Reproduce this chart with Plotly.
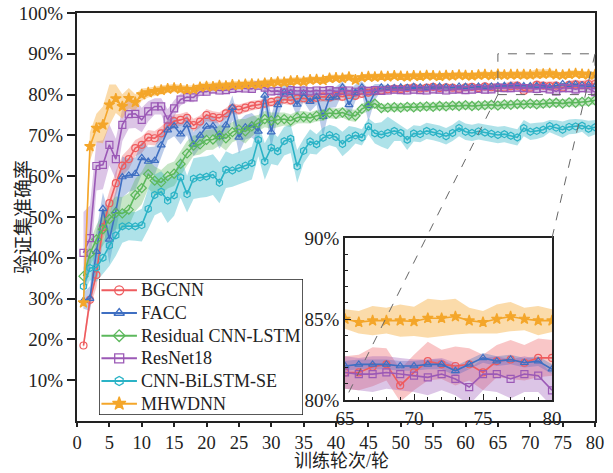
import plotly.graph_objects as go

epochs = list(range(1, 81))

names = ["BGCNN", "FACC", "Residual CNN-LSTM", "ResNet18", "CNN-BiLSTM-SE", "MHWDNN"]

bgcnn = [18.5, 29.7, 35.8, 47.5, 53.4, 58.3, 62.6, 64.2, 66.9, 67.7,
         69.5, 69.3, 70.5, 72.2, 73.5, 73.8, 74.3, 72.5, 73.4, 75.0,
         74.5, 74.3, 75.4, 76.6, 76.3, 76.8, 77.3, 77.5, 77.8, 78.2,
         78.5, 78.8, 78.6, 79.0, 79.1, 78.8, 79.2, 79.5, 79.3, 79.7,
         79.5, 79.9, 79.7, 80.2, 80.5, 80.8, 81.0, 81.3, 81.5, 81.4,
         81.6, 81.8, 81.5, 81.7, 81.9, 81.6, 81.8, 81.7, 81.4, 81.8,
         81.9, 81.6, 82.0, 81.8, 81.7, 81.7, 82.05, 82.2, 80.9, 81.7,
         82.4, 82.2, 82.1, 82.2, 81.7, 82.4, 82.5, 82.3, 82.6, 82.6]
bgcnn_err = [1.0, 2.0, 3.0, 3.5, 3.0, 3.0, 2.5, 2.5, 2.0, 2.0,
             1.8, 1.8, 1.7, 1.6, 1.6, 1.5, 1.5, 1.6, 1.5, 1.5,
             1.4, 1.4, 1.3, 1.3, 1.3, 1.2, 1.2, 1.2, 1.2, 1.2,
             1.2, 1.1, 1.2, 1.1, 1.2, 1.1, 1.1, 1.2, 1.1, 1.1,
             1.1, 1.0, 1.1, 1.0, 1.0, 1.0, 0.9, 0.9, 0.9, 0.9,
             0.9, 0.9, 0.9, 0.9, 0.8, 0.9, 0.9, 0.8, 0.9, 0.9,
             0.9, 0.9, 0.9, 0.9, 1.0, 1.1, 1.2, 1.0, 1.0, 1.1,
             1.2, 0.9, 1.2, 1.0, 1.1, 1.0, 1.2, 1.1, 1.2, 1.1]

facc = [29.5, 30.0, 41.5, 52.0, 44.5, 51.5, 59.8, 60.2, 60.6, 64.5,
        63.6, 63.8, 67.6, 71.3, 72.3, 70.3, 72.6, 67.8, 70.0, 72.2,
        72.3, 69.7, 72.5, 76.8, 69.5, 72.0, 72.5, 71.0, 79.8, 70.8,
        77.5, 80.6, 80.4, 77.6, 80.3, 78.3, 79.5, 74.6, 79.2, 79.4,
        81.8, 77.5, 80.5, 81.8, 77.3, 80.6, 81.8, 81.7, 81.6, 81.8,
        81.7, 81.9, 81.8, 81.7, 81.9, 82.0, 81.8, 81.7, 82.0, 81.9,
        81.8, 82.0, 81.9, 82.0, 82.1, 82.2, 82.2, 82.2, 82.1, 82.1,
        82.2, 82.2, 81.8, 82.2, 82.6, 82.4, 82.5, 82.3, 82.4, 81.9]
facc_err = [2.0, 3.0, 5.0, 4.0, 6.0, 5.0, 5.0, 4.0, 4.0, 4.0,
            3.5, 3.5, 3.0, 2.5, 2.5, 2.5, 2.5, 3.0, 3.0, 2.5,
            2.5, 3.0, 3.0, 3.0, 4.0, 3.0, 3.0, 3.0, 3.0, 4.0,
            3.0, 2.0, 2.0, 3.0, 2.0, 2.5, 2.0, 5.0, 2.5, 2.5,
            1.5, 3.5, 2.0, 1.5, 4.0, 2.0, 0.8, 0.5, 0.4, 0.4,
            0.4, 0.4, 0.4, 0.4, 0.4, 0.4, 0.4, 0.4, 0.4, 0.4,
            0.4, 0.4, 0.4, 0.4, 0.3, 0.3, 0.3, 0.3, 0.3, 0.3,
            0.3, 0.3, 0.3, 0.3, 0.3, 0.3, 0.3, 0.3, 0.3, 0.3]

rescnn = [35.5, 41.0, 44.5, 47.0, 49.5, 51.0, 50.9, 51.8, 55.4, 57.1,
          60.5, 58.9, 58.5, 60.0, 60.6, 63.0, 65.6, 67.5, 67.8, 68.9,
          69.0, 70.0, 69.3, 70.8, 71.5, 71.0, 72.2, 73.0, 74.0, 73.6,
          73.8, 74.0, 73.6, 74.4, 74.5, 74.3, 74.8, 75.0, 75.5, 75.3,
          75.6, 75.0, 74.8, 76.5, 77.2, 77.8, 76.7, 76.8, 76.9, 76.8,
          77.0, 76.9, 77.0, 77.1, 77.0, 77.2, 77.1, 77.3, 77.2, 77.4,
          77.2, 77.3, 77.4, 77.5, 77.3, 77.6, 77.5, 77.7, 77.6, 77.8,
          77.6, 77.8, 77.9, 78.0, 77.8, 78.1, 78.0, 78.2, 78.3, 78.6]
rescnn_err = [2.0, 3.0, 3.5, 4.0, 4.0, 4.0, 4.0, 4.0, 4.0, 4.0,
              3.5, 3.5, 3.0, 3.0, 3.0, 3.0, 3.0, 2.5, 2.5, 2.5,
              2.5, 2.5, 3.0, 2.5, 2.5, 3.0, 2.5, 2.0, 2.0, 2.0,
              1.8, 1.6, 1.6, 1.5, 1.5, 1.4, 1.4, 1.4, 1.3, 1.3,
              1.3, 1.4, 1.5, 1.3, 1.2, 1.1, 1.0, 1.0, 1.0, 1.0,
              1.0, 1.0, 1.0, 1.0, 1.0, 1.0, 1.0, 1.0, 1.0, 1.0,
              1.0, 1.0, 1.0, 1.0, 1.0, 1.0, 1.0, 1.0, 1.0, 1.0,
              1.0, 1.0, 1.0, 1.0, 1.0, 1.0, 1.0, 1.0, 1.0, 1.0]

resnet = [41.2, 44.8, 62.5, 62.8, 67.7, 64.2, 72.6, 75.2, 75.3, 73.8,
          75.9, 77.1, 77.1, 73.9, 76.6, 78.8, 79.4, 79.3, 80.7, 80.7,
          81.3, 81.0, 81.1, 81.4, 81.6, 81.5, 81.4, 82.2, 81.7, 80.8,
          80.9, 80.5, 81.1, 80.9, 81.0, 80.8, 81.0, 80.9, 81.1, 80.8,
          80.9, 81.0, 80.7, 81.0, 80.9, 81.1, 80.9, 81.0, 81.2, 81.1,
          81.0, 81.2, 81.1, 81.0, 81.3, 81.2, 81.0, 81.2, 81.3, 81.1,
          81.2, 81.4, 81.2, 81.3, 81.7, 81.6, 81.6, 81.7, 81.6, 81.5,
          81.4, 81.6, 81.3, 80.8, 81.6, 81.6, 81.3, 81.6, 81.5, 80.6]
resnet_err = [10.0, 8.0, 6.0, 6.0, 5.0, 5.0, 4.0, 3.5, 3.5, 3.0,
              2.5, 2.0, 2.0, 2.5, 2.0, 1.5, 1.2, 1.2, 1.0, 1.0,
              1.0, 1.0, 1.0, 1.0, 1.0, 1.0, 1.0, 1.0, 1.0, 1.0,
              1.0, 1.0, 1.0, 1.0, 1.0, 1.0, 1.0, 1.0, 1.0, 1.0,
              1.0, 1.0, 1.0, 1.0, 1.0, 1.0, 1.0, 1.0, 1.0, 1.0,
              1.0, 1.0, 1.0, 1.0, 1.0, 1.0, 1.0, 1.0, 1.0, 1.0,
              1.0, 1.0, 1.0, 1.0, 1.0, 1.0, 1.1, 1.0, 1.0, 1.0,
              1.1, 1.0, 1.0, 1.1, 1.0, 1.1, 1.2, 1.1, 1.0, 1.0]

bilstm = [33.0, 37.5, 37.6, 40.0, 43.0, 45.5, 47.7, 47.8, 47.7, 48.0,
          52.0, 55.4, 56.2, 54.0, 55.3, 59.7, 55.6, 59.4, 59.7, 59.9,
          60.4, 58.4, 61.6, 61.4, 62.0, 62.6, 63.2, 68.9, 63.6, 67.0,
          66.1, 68.6, 69.2, 62.4, 66.2, 68.5, 67.8, 69.4, 70.1, 69.6,
          67.9, 69.3, 70.0, 69.5, 72.2, 70.5, 70.2, 70.6, 71.1, 70.6,
          68.9, 70.5, 70.3, 71.1, 70.8, 70.4, 69.8, 70.6, 71.8, 70.9,
          70.6, 71.0, 70.7, 70.4, 70.1, 70.3, 69.9, 69.5, 71.8, 70.9,
          71.1, 71.4, 72.3, 71.9, 71.4, 72.1, 72.2, 72.4, 71.6, 72.0]
bilstm_err = [2.0, 3.0, 3.5, 4.0, 5.0, 5.0, 4.0, 3.5, 3.5, 4.0,
              5.0, 5.0, 5.0, 5.5, 5.0, 5.0, 4.5, 5.0, 5.0, 5.0,
              5.0, 5.0, 4.5, 4.0, 4.0, 4.0, 4.0, 4.0, 4.5, 4.0,
              3.5, 3.5, 3.5, 4.0, 3.0, 3.0, 2.5, 2.5, 2.5, 2.5,
              3.0, 3.0, 2.0, 2.0, 2.0, 2.5, 3.0, 4.0, 2.5, 2.0,
              2.5, 2.0, 2.0, 2.0, 2.0, 2.0, 2.0, 2.0, 2.0, 2.0,
              2.0, 2.0, 2.0, 2.0, 2.0, 2.0, 2.0, 2.0, 2.0, 2.0,
              2.0, 1.8, 1.5, 1.8, 2.0, 1.8, 1.8, 1.5, 2.0, 1.8]

mhwdnn = [29.0, 67.3, 71.8, 72.6, 77.5, 79.0, 77.1, 79.1, 78.1, 80.0,
          80.5, 80.8, 81.1, 81.4, 81.6, 81.4, 81.2, 81.3, 81.8, 82.0,
          81.9, 82.2, 82.1, 82.4, 82.3, 82.5, 82.6, 82.5, 82.8, 82.9,
          83.1, 83.0, 83.3, 83.4, 83.2, 83.6, 83.7, 83.5, 84.0, 84.1,
          84.0, 84.3, 83.6, 84.2, 84.4, 84.3, 84.5, 84.4, 84.6, 84.5,
          84.4, 84.6, 84.5, 84.7, 84.6, 84.5, 84.7, 84.6, 84.8, 84.7,
          84.6, 84.8, 84.9, 84.7, 85.0, 84.8, 84.9, 84.9, 84.9, 84.85,
          85.05, 85.05, 85.15, 84.9, 84.8, 85.0, 85.15, 85.0, 84.9, 84.9]
mhwdnn_err = [2.5, 3.5, 3.5, 4.5, 5.0, 3.5, 3.0, 2.5, 2.0, 1.5,
              1.2, 1.2, 1.1, 1.0, 1.0, 1.0, 1.0, 1.0, 1.0, 1.0,
              1.0, 1.0, 0.9, 0.9, 1.0, 0.9, 0.9, 0.9, 0.9, 0.9,
              0.9, 0.9, 0.9, 0.9, 0.9, 0.9, 0.8, 0.9, 0.9, 0.8,
              0.8, 0.9, 0.9, 0.8, 0.8, 0.8, 0.8, 0.8, 0.8, 0.8,
              0.8, 0.8, 0.8, 0.8, 0.8, 0.8, 0.8, 0.8, 0.8, 0.8,
              0.8, 0.8, 0.8, 0.8, 0.6, 0.7, 0.9, 0.8, 1.0, 0.9,
              1.2, 1.1, 1.1, 0.8, 0.7, 0.9, 0.9, 0.7, 0.9, 0.7]

values = [bgcnn, facc, rescnn, resnet, bilstm, mhwdnn]
errors = [bgcnn_err, facc_err, rescnn_err, resnet_err, bilstm_err, mhwdnn_err]
colors = ["#EE5B5E", "#3F6FC2", "#5CB85C", "#9B59B6", "#2BB3C6", "#F4A62A"]
fills = ["rgba(238,91,94,0.35)", "rgba(63,111,194,0.35)", "rgba(92,184,92,0.35)",
         "rgba(155,89,182,0.35)", "rgba(43,179,198,0.38)", "rgba(244,166,42,0.40)"]
symbols = ["circle-open", "triangle-up-open", "diamond-open", "square-open", "hexagon-open", "star"]

main_yticks = [10, 20, 30, 40, 50, 60, 70, 80, 90, 100]
main_xticks = list(range(0, 81, 5))
inset_xticks = [65, 70, 75, 80]
inset_yticks = [80, 85, 90]
zoom_x = [65, 80]
zoom_y = [80, 90]
x_range = [0, 80]
y_range = [0, 100]
x_title = "训练轮次/轮"
y_title = "验证集准确率"

serif = "Liberation Serif, Times New Roman, serif"
cjk = "Liberation Serif, Noto Sans CJK SC, serif"

fig = go.Figure()

for axes in [("x", "y"), ("x2", "y2")]:
    for v, e, fc in zip(values, errors, fills):
        up = [a + b for a, b in zip(v, e)]
        lo = [a - b for a, b in zip(v, e)]
        fig.add_trace(go.Scatter(
            x=epochs + epochs[::-1], y=up + lo[::-1], fill="toself",
            fillcolor=fc, line=dict(width=0), mode="lines", hoverinfo="skip",
            showlegend=False, xaxis=axes[0], yaxis=axes[1]))
    for n, v, c, s in zip(names, values, colors, symbols):
        fig.add_trace(go.Scatter(
            x=epochs, y=v, name=n, mode="lines+markers",
            line=dict(color=c, width=1.6),
            marker=dict(symbol=s, size=7 if s != "star" else 8, color=c,
                        line=dict(color=c, width=1.2)),
            showlegend=False, xaxis=axes[0], yaxis=axes[1]))

W, H = 613, 473
ML, MR, MT, MB = 77, 18, 13, 52
pw, ph = W - ML - MR, H - MT - MB

# ---- custom legend drawn on an auxiliary hidden axis (x3/y3) ----
lg_x0, lg_x1 = (99 - ML) / pw, (303 - ML) / pw
lg_y0, lg_y1 = (H - MB - 415) / ph, (H - MB - 279) / ph
n_items = len(names)
row_y = [1 - (i + 0.5) / n_items for i in range(n_items)]
fig.add_trace(go.Scatter(x=[0, 1, 1, 0, 0], y=[0, 0, 1, 1, 0], fill="toself",
                         fillcolor="white", line=dict(color="#222222", width=1.5),
                         mode="lines", hoverinfo="skip", showlegend=False,
                         xaxis="x3", yaxis="y3"))
for n, c, s, ry in zip(names, colors, symbols, row_y):
    fig.add_trace(go.Scatter(x=[0.012, 0.186], y=[ry, ry], mode="lines",
                             line=dict(color=c, width=2), hoverinfo="skip",
                             showlegend=False, xaxis="x3", yaxis="y3"))
    fig.add_trace(go.Scatter(x=[0.099], y=[ry], mode="markers",
                             marker=dict(symbol=s, size=9 if s != "star" else 10, color=c,
                                         line=dict(color=c, width=1.3)),
                             hoverinfo="skip", showlegend=False,
                             xaxis="x3", yaxis="y3"))
    fig.add_annotation(x=0.196, y=ry, xref="x3", yref="y3", text=n,
                       showarrow=False, xanchor="left", yanchor="middle",
                       font=dict(family=serif, size=18, color="#222222"))

# inset domain (pixel box 345..552 x 239..401)
ix0, ix1 = (345 - ML) / pw, (552 - ML) / pw
iy0, iy1 = (H - MB - 400) / ph, (H - MB - 238) / ph

fig.update_layout(
    width=W, height=H,
    margin=dict(l=ML, r=MR, t=MT, b=MB, autoexpand=False),
    paper_bgcolor="white", plot_bgcolor="white",
    font=dict(family=serif, size=19, color="#222222"),
    xaxis=dict(domain=[0, 1], range=x_range, tickvals=main_xticks,
               tickfont=dict(size=18.5),
               ticks="outside", ticklen=4, tickwidth=1.5, tickcolor="#222222",
               showline=True, linecolor="#222222", linewidth=2, mirror=True,
               showgrid=False, zeroline=False, automargin=False),
    yaxis=dict(domain=[0, 1], range=y_range, tickvals=main_yticks,
               ticktext=[f"{t}%" for t in main_yticks],
               ticks="outside", ticklen=8, tickwidth=1.5, tickcolor="#222222",
               showline=True, linecolor="#222222", linewidth=2, mirror=True,
               showgrid=False, zeroline=False, automargin=False),
    xaxis2=dict(domain=[ix0, ix1], anchor="y2", range=zoom_x, tickvals=inset_xticks,
                ticks="inside", ticklen=6, tickwidth=1, tickcolor="#222222",
                minor=dict(dtick=1, ticks="inside", ticklen=3, tickcolor="#222222"),
                showline=True, linecolor="#222222", linewidth=1.5, mirror=True,
                showgrid=False, zeroline=False, automargin=False),
    yaxis2=dict(domain=[iy0, iy1], anchor="x2", range=zoom_y, tickvals=inset_yticks,
                ticktext=[f"{t}%" for t in inset_yticks],
                ticks="inside", ticklen=6, tickwidth=1, tickcolor="#222222",
                minor=dict(dtick=1, ticks="inside", ticklen=3, tickcolor="#222222"),
                showline=True, linecolor="#222222", linewidth=1.5, mirror=True,
                showgrid=False, zeroline=False, automargin=False),
    xaxis3=dict(domain=[lg_x0, lg_x1], anchor="y3", range=[0, 1], visible=False,
                fixedrange=True),
    yaxis3=dict(domain=[lg_y0, lg_y1], anchor="x3", range=[0, 1], visible=False,
                fixedrange=True),
    showlegend=False,
)

# axis titles as annotations placed in pixel terms of the paper
fig.add_annotation(x=(341 - ML) / pw, y=-(461 - (H - MB)) / ph, xref="paper", yref="paper",
                   text=x_title, showarrow=False, xanchor="center", yanchor="middle",
                   font=dict(family=cjk, size=18, color="#222222"))
fig.add_annotation(x=(23 - ML) / pw, y=0.5, xref="paper", yref="paper",
                   text=y_title, showarrow=False, textangle=-90,
                   xanchor="center", yanchor="middle",
                   font=dict(family=cjk, size=19, color="#222222"))

# zoom rectangle on the main axes
fig.add_shape(type="rect", xref="x", yref="y", x0=zoom_x[0], x1=zoom_x[1],
              y0=zoom_y[0], y1=zoom_y[1],
              line=dict(color="#666666", width=1, dash="dash"), layer="above")
# connector lines (paper coordinates)
px = lambda v: (v - x_range[0]) / (x_range[1] - x_range[0])
py = lambda v: (v - y_range[0]) / (y_range[1] - y_range[0])
fig.add_shape(type="line", xref="paper", yref="paper",
              x0=px(zoom_x[0]), y0=py(zoom_y[0]), x1=ix0, y1=iy0,
              line=dict(color="#666666", width=1, dash="dash"), layer="above")
fig.add_shape(type="line", xref="paper", yref="paper",
              x0=px(zoom_x[1]), y0=py(zoom_y[1]), x1=ix1, y1=iy1,
              line=dict(color="#666666", width=1, dash="dash"), layer="above")

fig.write_html("out.html")
